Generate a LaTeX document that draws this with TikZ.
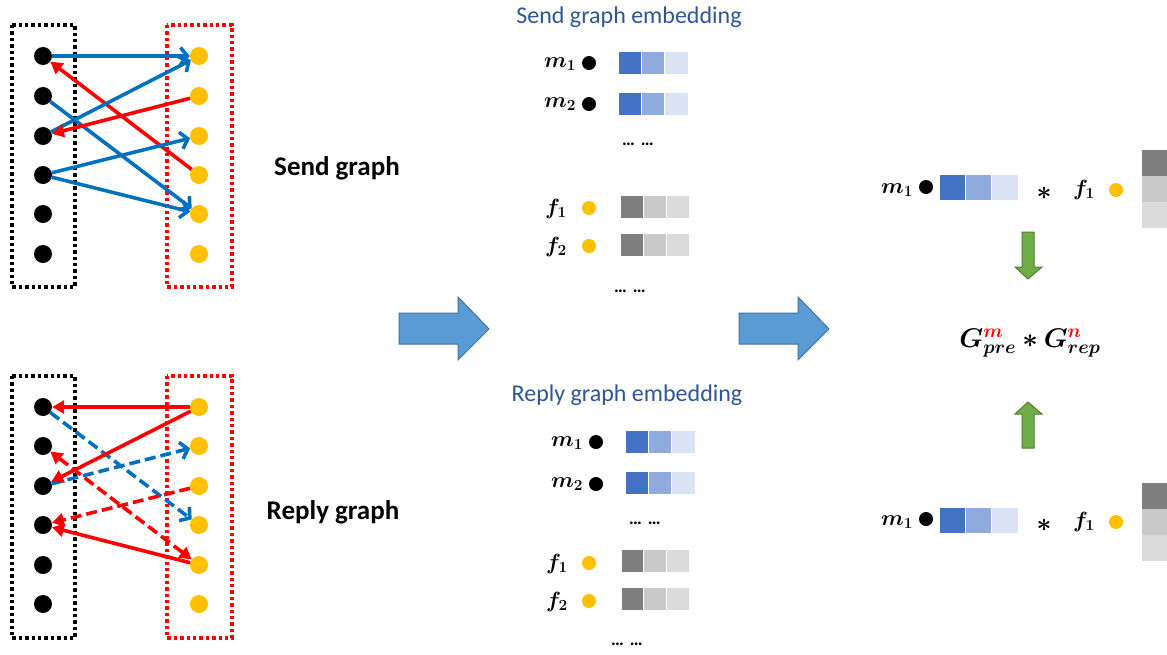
\RequirePackage{fix-cm}
\documentclass[tikz,border=0pt]{standalone}
\usepackage{amsmath}
\usepackage{bm}
\usepackage{fontspec}
\setmainfont{Carlito}
\usetikzlibrary{arrows.meta}
\definecolor{eblue}{HTML}{0070C0}
\definecolor{ered}{HTML}{FF0000}
\definecolor{gold}{HTML}{FFC000}
\definecolor{titleblue}{HTML}{2F5597}
\definecolor{ca}{HTML}{4472C4}
\definecolor{cb}{HTML}{8FAADC}
\definecolor{cc}{HTML}{DAE3F3}
\definecolor{ga}{HTML}{7F7F7F}
\definecolor{gb}{HTML}{C9C9C9}
\definecolor{gc}{HTML}{DBDBDB}
\definecolor{bigblue}{HTML}{5B9BD5}
\definecolor{bigblueb}{HTML}{41719C}
\definecolor{agreen}{HTML}{70AD47}
\definecolor{agreenb}{HTML}{507E32}
\tikzset{
  bdot/.style={circle, fill=black, inner sep=0pt, minimum size=18pt},
  odot/.style={circle, fill=gold, inner sep=0pt, minimum size=18pt},
  sbdot/.style={circle, fill=black, inner sep=0pt, minimum size=14pt},
  sodot/.style={circle, fill=gold, inner sep=0pt, minimum size=14pt},
  bedge/.style={draw=eblue, line width=3.6pt, -{Straight Barb[length=7pt,width=17pt]}},
  redge/.style={draw=ered, line width=3.6pt, -{Triangle[length=12pt,width=13pt]}},
  dashline/.style={dash pattern=on 11pt off 5pt},
  dotbox/.style={line width=3.4pt, dash pattern=on 3.4pt off 3pt},
  cell/.style={draw=white, line width=1pt},
  bigarrow/.style={fill=bigblue, draw=bigblueb, line width=1pt},
  greenarrow/.style={fill=agreen, draw=agreenb, line width=1pt},
  gtitle/.style={font=\bfseries\fontsize{27}{31}\selectfont},
  etitle/.style={text=titleblue, font=\fontsize{24}{28}\selectfont},
  lab/.style={font=\fontsize{22}{26}\selectfont, inner sep=0pt},
  dots/.style={font=\bfseries\fontsize{18}{21}\selectfont}
}
\newcommand{\embrow}[6]{%
  \begin{scope}[shift={(#1,#2)}]
    \path[cell, fill=#4] (0,0) rectangle (#3/3,23);
    \path[cell, fill=#5] (#3/3,0) rectangle (2*#3/3,23);
    \path[cell, fill=#6] (2*#3/3,0) rectangle (#3,23);
  \end{scope}}
\begin{document}
\begin{tikzpicture}[x=1pt, y=-1pt]
\useasboundingbox (0,0) rectangle (1167,654);

% ---------- Send graph ----------
\draw[dotbox, black] (12,25) rectangle (75,287);
\draw[dotbox, ered] (167,25) rectangle (232,287);
\foreach \i/\yy in {1/56,2/96,3/136,4/175,5/214,6/254} {
  \node[bdot] (sb\i) at (43,\yy) {};
  \node[odot] (so\i) at (199,\yy) {};
}
\draw[bedge] (sb1) -- (so1);
\draw[redge] (so4) -- (sb1);
\draw[bedge] (sb2) -- (so5);
\draw[bedge] (sb3) -- (so1);
\draw[redge] (so2) -- (sb3);
\draw[bedge] (sb4) -- (so3);
\draw[bedge] (sb4) -- (so5);
\node[gtitle] (sendlabel) at (337,168) {Send graph};

% ---------- Reply graph ----------
\draw[dotbox, black] (12,376) rectangle (75,638);
\draw[dotbox, ered] (167,376) rectangle (232,638);
\foreach \i/\yy in {1/407,2/446,3/486,4/525,5/565,6/604} {
  \node[bdot] (rb\i) at (43,\yy) {};
  \node[odot] (ro\i) at (199,\yy) {};
}
\draw[bedge, dashline] (rb1) -- (ro4);
\draw[bedge, dashline] (rb3) -- (ro2);
\draw[redge, dashline] (ro3) -- (rb4);
\draw[redge, dashline, {Triangle[length=12pt,width=13pt]}-{Triangle[length=12pt,width=13pt]}] (rb2) -- (ro5);
\draw[redge] (ro1) -- (rb1);
\draw[redge] (ro1) -- (rb3);
\draw[redge] (ro5) -- (rb4);
\node[gtitle] (replylabel) at (333,512) {Reply graph};

% ---------- big arrows ----------
\path[bigarrow] (399,313) -- (458,313) -- (458,297) -- (489,329) -- (458,360) -- (458,344) -- (399,344) -- cycle;
\path[bigarrow] (739,313) -- (798,313) -- (798,297) -- (829,329) -- (798,360) -- (798,344) -- (739,344) -- cycle;

% ---------- Send graph embedding ----------
\node[etitle] (sge) at (629,17) {Send graph embedding};
\node[lab] (sm1) at (560,64) {$\bm{m_1}$};
\node[sbdot] (sm1d) at (589,63) {};
\embrow{618}{51}{70}{ca}{cb}{cc}
\node[lab] (sm2) at (560,104) {$\bm{m_2}$};
\node[sbdot] (sm2d) at (589,104) {};
\embrow{618}{92}{70}{ca}{cb}{cc}
\node[dots] (sdots1) at (638,144) {…\,\,…};
\node[lab] (sf1) at (556,209) {$\bm{f_1}$};
\node[sodot] (sf1d) at (589,208) {};
\embrow{620}{195}{69}{ga}{gb}{gc}
\node[lab] (sf2) at (556,247) {$\bm{f_2}$};
\node[sodot] (sf2d) at (589,246) {};
\embrow{620}{233}{69}{ga}{gb}{gc}
\node[dots] (sdots2) at (630,291) {…\,\,…};

% ---------- Reply graph embedding ----------
\node[etitle] (rge) at (627,395) {Reply graph embedding};
\node[lab] (rm1) at (567,443) {$\bm{m_1}$};
\node[sbdot] (rm1d) at (596,442) {};
\embrow{625}{430}{70}{ca}{cb}{cc}
\node[lab] (rm2) at (567,484) {$\bm{m_2}$};
\node[sbdot] (rm2d) at (596,484) {};
\embrow{625}{471}{70}{ca}{cb}{cc}
\node[dots] (rdots1) at (645,523) {…\,\,…};
\node[lab] (rf1) at (557,564) {$\bm{f_1}$};
\node[sodot] (rf1d) at (589,563) {};
\embrow{621}{549}{68}{ga}{gb}{gc}
\node[lab] (rf2) at (557,602) {$\bm{f_2}$};
\node[sodot] (rf2d) at (589,601) {};
\embrow{621}{587}{68}{ga}{gb}{gc}
\node[dots] (rdots2) at (627,644) {…\,\,…};

% ---------- right: top product ----------
\node[lab] (tm1) at (897,190) {$\bm{m_1}$};
\node[sbdot] (tm1d) at (926,187) {};
\begin{scope}[shift={(939,174)}]
  \path[cell, fill=ca] (0,0) rectangle (26.3,26);
  \path[cell, fill=cb] (26.3,0) rectangle (52.6,26);
  \path[cell, fill=cc] (52.6,0) rectangle (79,26);
\end{scope}
\node[lab, font=\fontsize{26}{30}\selectfont] (tstar) at (1044,193) {$\bm{*}$};
\node[lab] (tf1) at (1084,190) {$\bm{f_1}$};
\node[sodot] (tf1d) at (1116,190) {};
\path[fill=ga] (1142,150) rectangle (1168,176);
\path[fill=gb] (1142,176) rectangle (1168,202);
\path[fill=gc] (1142,202) rectangle (1168,228);

% ---------- right: bottom product ----------
\node[lab] (bm1) at (897,522) {$\bm{m_1}$};
\node[sbdot] (bm1d) at (926,519) {};
\begin{scope}[shift={(939,507)}]
  \path[cell, fill=ca] (0,0) rectangle (26.3,26);
  \path[cell, fill=cb] (26.3,0) rectangle (52.6,26);
  \path[cell, fill=cc] (52.6,0) rectangle (79,26);
\end{scope}
\node[lab, font=\fontsize{26}{30}\selectfont] (bstar) at (1044,525) {$\bm{*}$};
\node[lab] (bf1) at (1084,522) {$\bm{f_1}$};
\node[sodot] (bf1d) at (1116,522) {};
\path[fill=ga] (1142,483) rectangle (1168,509);
\path[fill=gb] (1142,509) rectangle (1168,535);
\path[fill=gc] (1142,535) rectangle (1168,561);

% ---------- green arrows ----------
\path[greenarrow] (1022,232) -- (1034,232) -- (1034,267) -- (1042,267) -- (1028,279) -- (1015,267) -- (1022,267) -- cycle;
\path[greenarrow] (1028,402) -- (1042,414) -- (1034,414) -- (1034,448) -- (1022,448) -- (1022,414) -- (1015,414) -- cycle;

% ---------- formula ----------
\node[font=\fontsize{27}{31}\selectfont] (formula) at (1030,343)
  {$\bm{G}^{\textcolor{red}{\bm{m}}}_{\bm{pre}} \mathbin{\bm{*}} \bm{G}^{\textcolor{red}{\bm{n}}}_{\bm{rep}}$};
\end{tikzpicture}
\end{document}
